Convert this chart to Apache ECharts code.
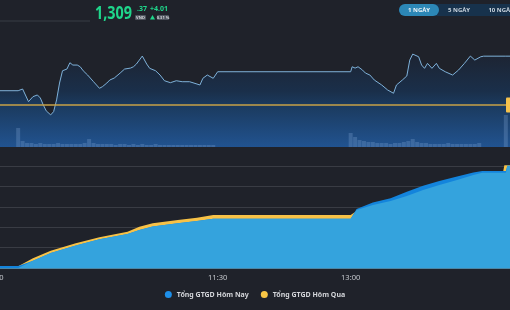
<!DOCTYPE html>
<html lang="vi">
<head>
    <meta charset="UTF-8">
    <title>VNINDEX</title>
    <script src="https://cdn.jsdelivr.net/npm/echarts/dist/echarts.min.js"></script>
    <style>
        html, body { margin: 0; padding: 0; background: #1f222a; }
        #myChart { width: 510px; height: 310px; }
    </style>
</head>
<body>
<div id="myChart"></div>
<script type="text/javascript">
    // gia chi so trong ngay
    var priceTimes = ['09:00','09:15','09:18','09:22','09:25','09:28','09:30','09:32','09:34','09:37','09:39','09:41','09:43','09:45','09:48','09:50','09:52','09:55','09:57','09:59',
        '10:02','10:06','10:10','10:12','10:15','10:17','10:20','10:24','10:27','10:31','10:33','10:35','10:37','10:39','10:42','10:44','10:48','10:51','10:54','10:58',
        '11:02','11:06','11:11','11:16','11:18','11:20','11:23','11:27','11:30',
        '13:00','13:01','13:03','13:05','13:08','13:10','13:13','13:16','13:21','13:25','13:29','13:31','13:35','13:38','13:40','13:42','13:46','13:48','13:50','13:52','13:55','13:58',
        '14:00','14:04','14:09','14:13','14:17','14:21','14:24','14:28','14:30','14:45','15:00'];
    var priceValues = [1306.53,1306.53,1306.67,1305.63,1306.04,1306.18,1305.93,1305.36,1304.87,1304.54,1304.81,1305.77,1307.16,1308.17,1308.31,1308.83,1308.64,1308.64,1308.50,1308.17,
        1307.82,1307.27,1306.73,1306.86,1307.16,1307.41,1307.57,1307.98,1308.31,1308.39,1308.50,1308.72,1309.05,1309.38,1308.72,1308.37,1308.17,1307.82,1307.35,1307.19,
        1307.35,1307.27,1307.27,1307.08,1307.00,1307.55,1307.82,1307.55,1308.09,
        1308.09,1308.50,1308.39,1308.50,1308.23,1307.98,1307.82,1307.41,1307.00,1306.59,1306.32,1307.00,1307.41,1307.74,1309.05,1309.54,1309.32,1308.64,1308.37,1308.78,1308.37,1308.78,
        1308.37,1308.09,1307.82,1308.23,1308.78,1309.38,1309.05,1309.32,1309.37,1309.37,1309.37];
    var refPrice = 1305.36;

    // khoi luong (moi 3 phut)
    var volTimes = ['09:15','09:18','09:21','09:24','09:27','09:30','09:33','09:36','09:39','09:42','09:45','09:48','09:51','09:54','09:57','10:00','10:03','10:06','10:09','10:12',
        '10:15','10:18','10:21','10:24','10:27','10:30','10:33','10:36','10:39','10:42','10:45','10:48','10:51','10:54','10:57','11:00','11:03','11:06','11:09','11:12','11:15','11:18','11:21','11:24','11:27',
        '13:00','13:03','13:06','13:09','13:12','13:15','13:18','13:21','13:24','13:27','13:30','13:33','13:36','13:39','13:42','13:45','13:48','13:51','13:54','13:57',
        '14:00','14:03','14:06','14:09','14:12','14:15','14:18','14:21','14:24','14:27','14:45'];
    var volValues = [19,6,4,4,3,4,3,3,3,4,3,3,3,3,3,4,8,4,3,3,
        3,3,2,3,3,2,3,2,3,2,2,3,2,2,2,2,2,2,2,2,2,2,2,2,2,
        14,10,7,6,5,5,4,4,4,3,4,4,5,6,8,5,4,4,3,3,
        3,3,4,3,3,3,3,3,3,4,32];

    // tong gia tri giao dich luy ke (ty dong)
    var gtTimes = ['09:00','09:15','09:25','09:37','09:54','10:10','10:29','10:37','10:46','11:03','11:16','11:27',
        '13:00','13:01','13:04','13:15','13:27','13:38','13:49','14:00','14:12','14:23','14:29','14:43','14:44','14:45','14:46','15:00'];
    var gtToday = [300,300,1078,2214,3321,4236,5018,5609,6125,6598,6937,7280,
        7280,7300,8700,9650,10300,11250,12150,12850,13500,14100,14300,14300,14300,14300,15100,15100];
    var gtYesterday = [250,250,1432,2553,3646,4531,5358,6096,6598,7085,7424,7823,
        7823,7823,8400,9200,9800,10550,11400,12150,12900,13650,14000,14000,15150,15150,15150,15150];
    var gtCommon = [0,0,1078,2214,3321,4236,5018,5609,6125,6598,6937,7280,
        7280,7250,8561,9299,9889,10627,11513,12251,12989,13727,14066,14066,14066,14066,15100,15100];

    var xLabels = {0: '9:00', 150: '11:30', 240: '13:00'};

    function toMin(t) {
        var p = t.split(':');
        return (parseInt(p[0], 10) - 9) * 60 + parseInt(p[1], 10);
    }

    function pairs(times, values) {
        var out = [];
        for (var i = 0; i < times.length; i++) {
            out.push([toMin(times[i]), values[i]]);
        }
        return out;
    }

    var myChart = echarts.init(document.getElementById('myChart'), null, {renderer: 'canvas'});
    var font = 'Noto Sans';

    var header = [
        {type: 'line', shape: {x1: 0, y1: 21, x2: 90, y2: 21}, style: {stroke: '#393c44', lineWidth: 1}},
        {type: 'text', x: 95, y: 14, scaleX: 0.8, style: {text: '1,309', fill: '#1fd68b', font: 'bold 18px "Noto Sans"', verticalAlign: 'middle'}},
        {type: 'text', x: 137, y: 9, style: {text: '.37', fill: '#1fd68b', font: 'bold 7px "Noto Sans"', verticalAlign: 'middle'}},
        {type: 'rect', shape: {x: 135, y: 15, width: 11, height: 5, r: 1}, style: {fill: '#4e535d'}},
        {type: 'text', x: 140.5, y: 17.5, style: {text: 'VND', fill: '#d5d8dc', font: 'bold 4px "Noto Sans"', align: 'center', verticalAlign: 'middle'}},
        {type: 'text', x: 150, y: 9, style: {text: '+4.01', fill: '#1fd68b', font: 'bold 7px "Noto Sans"', verticalAlign: 'middle'}},
        {type: 'polygon', shape: {points: [[150, 19.5], [155, 19.5], [152.5, 15]]}, style: {fill: '#1fd68b'}},
        {type: 'rect', shape: {x: 157, y: 15, width: 12, height: 5, r: 1}, style: {fill: '#4e535d'}},
        {type: 'text', x: 163, y: 17.5, style: {text: '0.31 %', fill: '#d5d8dc', font: 'bold 4px "Noto Sans"', align: 'center', verticalAlign: 'middle'}},
        {type: 'rect', shape: {x: 399, y: 4, width: 120, height: 12, r: 6}, style: {fill: '#17324c'}},
        {type: 'rect', shape: {x: 399, y: 4, width: 40, height: 12, r: 6}, style: {fill: '#2c87b6'}},
        {type: 'text', x: 419, y: 10, style: {text: '1 NGÀY', fill: '#eef4f8', font: 'bold 6px "Noto Sans"', align: 'center', verticalAlign: 'middle'}},
        {type: 'text', x: 459, y: 10, style: {text: '5 NGÀY', fill: '#c9d4de', font: 'bold 6px "Noto Sans"', align: 'center', verticalAlign: 'middle'}},
        {type: 'text', x: 501, y: 10, style: {text: '10 NGÀY', fill: '#c9d4de', font: 'bold 6px "Noto Sans"', align: 'center', verticalAlign: 'middle'}}
    ];

    var option = {
        backgroundColor: '#1f222a',
        animation: false,
        textStyle: {fontFamily: font},
        legend: {
            data: ['Tổng GTGD Hôm Nay', 'Tổng GTGD Hôm Qua'],
            bottom: 7,
            left: 'center',
            icon: 'circle',
            itemWidth: 7,
            itemHeight: 7,
            itemGap: 12,
            textStyle: {color: '#d3d5d9', fontSize: 7, fontWeight: 'bold', fontFamily: font}
        },
        grid: [
            {left: -4, right: -18, top: 40, height: 107, outerBoundsMode: 'none', containLabel: false},
            {left: -4, right: -18, top: 146, height: 122, outerBoundsMode: 'none', containLabel: false}
        ],
        xAxis: [
            {type: 'value', gridIndex: 0, min: 0, max: 360, show: false},
            {
                type: 'value', gridIndex: 1, min: 0, max: 360, interval: 30,
                axisLine: {show: true, lineStyle: {color: '#4a86a6', width: 1}},
                axisTick: {show: false},
                splitLine: {show: false},
                axisLabel: {
                    color: '#c6c9ce', fontSize: 7.5, margin: 6,
                    formatter: function (v) { return xLabels[v] || ''; }
                }
            }
        ],
        yAxis: [
            {type: 'value', gridIndex: 0, min: 1301.9, max: 1310.7, show: false},
            {type: 'value', gridIndex: 0, min: 0, max: 107, show: false},
            {
                type: 'value', gridIndex: 1, min: 0, max: 18000, interval: 3000,
                axisLabel: {show: false}, axisLine: {show: false}, axisTick: {show: false},
                splitLine: {show: true, lineStyle: {color: '#393c44', width: 1}}
            }
        ],
        series: [
            {
                name: 'VNINDEX', type: 'line', xAxisIndex: 0, yAxisIndex: 0, z: 2,
                data: pairs(priceTimes, priceValues),
                showSymbol: false,
                lineStyle: {color: '#7fb2da', width: 1},
                areaStyle: {
                    color: new echarts.graphic.LinearGradient(0, 0, 0, 1, [
                        {offset: 0, color: '#1d2432'},
                        {offset: 0.4, color: '#1a2f4a'},
                        {offset: 0.55, color: '#1b3a5e'},
                        {offset: 1, color: '#215390'}
                    ]),
                    opacity: 1
                },
                markLine: {
                    silent: true, symbol: 'none',
                    label: {show: false},
                    lineStyle: {color: '#c9a247', width: 1.5, type: 'solid'},
                    data: [{yAxis: refPrice}]
                }
            },
            {
                name: 'KL', type: 'bar', xAxisIndex: 0, yAxisIndex: 1, z: 3,
                data: pairs(volTimes, volValues),
                barWidth: 4,
                itemStyle: {color: 'rgba(120,160,205,0.32)'}
            },
            {
                name: 'Tổng GTGD Hôm Qua', type: 'line', xAxisIndex: 1, yAxisIndex: 2, z: 2,
                data: pairs(gtTimes, gtYesterday),
                showSymbol: false,
                itemStyle: {color: '#f9c645'},
                lineStyle: {width: 0},
                areaStyle: {color: '#f7c247', opacity: 1}
            },
            {
                name: 'Tổng GTGD Hôm Nay', type: 'line', xAxisIndex: 1, yAxisIndex: 2, z: 3,
                data: pairs(gtTimes, gtToday),
                showSymbol: false,
                itemStyle: {color: '#1e8fe8'},
                lineStyle: {width: 0},
                areaStyle: {color: '#1384dc', opacity: 1}
            },
            {
                name: 'chung', type: 'line', xAxisIndex: 1, yAxisIndex: 2, z: 4,
                data: pairs(gtTimes, gtCommon),
                showSymbol: false,
                itemStyle: {color: '#34a3dd'},
                lineStyle: {width: 0},
                areaStyle: {color: '#34a3dd', opacity: 1}
            }
        ],
        graphic: header
    };
    myChart.setOption(option);

    // the gia tham chieu ben phai
    var refY = myChart.convertToPixel({yAxisIndex: 0}, refPrice);
    header.push({type: 'rect', shape: {x: 506, y: refY - 7.5, width: 8, height: 15, r: 1}, style: {fill: '#f6c24c'}, z: 10});
    myChart.setOption({graphic: header}, {replaceMerge: ['graphic']});
</script>
</body>
</html>
